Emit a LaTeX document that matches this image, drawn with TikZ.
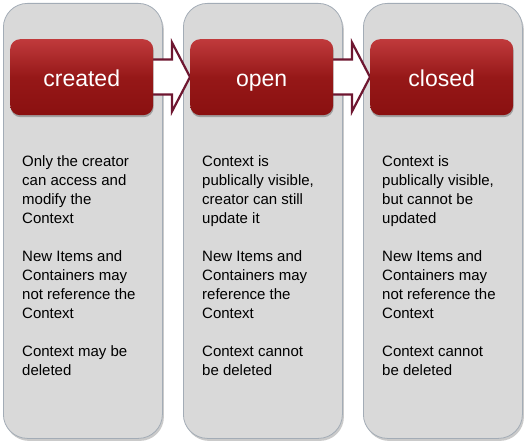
\documentclass[tikz,border=0pt]{standalone}
\usepackage{fontspec}
\setmainfont{Liberation Sans}
\usetikzlibrary{calc,shadows}
\definecolor{colfill}{HTML}{D9D9D9}
\definecolor{colline}{HTML}{A3ACB6}
\definecolor{redtop}{HTML}{C03A3C}
\definecolor{redmid}{HTML}{961818}
\definecolor{redbot}{HTML}{8A1010}
\definecolor{arrline}{HTML}{6E1630}
\tikzset{
  column/.style={draw=colline, line width=0.8pt, fill=colfill, rounded corners=24pt,
    minimum width=159pt, minimum height=435pt, inner sep=0pt, anchor=north west,
    drop shadow={shadow xshift=1.5pt, shadow yshift=-2.5pt, opacity=0.35, fill=black!60}},
  state/.style={rounded corners=10pt, minimum width=143pt, minimum height=76pt, inner sep=0pt,
    anchor=north west, top color=redtop, bottom color=redbot, middle color=redmid,
    text=white, font=\fontsize{23}{27}\selectfont, text height=18pt, text depth=0pt,
    drop shadow={shadow xshift=0.5pt, shadow yshift=-2pt, opacity=0.4, fill=black!70}},
  desc/.style={anchor=north west, inner sep=0pt, align=left, font=\fontsize{15}{19}\selectfont},
  flow/.style={draw=arrline, line width=2.2pt, fill=white, line join=miter}
}
\begin{document}
\begin{tikzpicture}[x=1pt,y=-1pt]
\useasboundingbox (0,0) rectangle (526,446);
\node[column] (c1) at (3,3) {};
\node[column] (c2) at (183,3) {};
\node[column] (c3) at (363,3) {};
% arrows
\coordinate (s1) at (145,77);
\coordinate (s2) at (325,77);
\coordinate (t1) at (190,77);
\coordinate (t2) at (370,77);
\foreach \s/\t in {s1/t1,s2/t2}{
  \draw[flow] ($(\s)+(0,-17.5)$) -- ($(\t)+(-18,-17.5)$) -- ($(\t)+(-18,-34.5)$) -- (\t)
    -- ($(\t)+(-18,34.5)$) -- ($(\t)+(-18,17.5)$) -- ($(\s)+(0,17.5)$) -- cycle;
}
\node[state] (b1) at (10,39) {created};
\node[state] (b2) at (190,39) {open};
\node[state] (b3) at (370,39) {closed};
\node[desc] (d1) at (22,155) {Only the creator\\can access and\\modify the\\Context\\[19pt]New Items and\\Containers may\\not reference the\\Context\\[19pt]Context may be\\deleted};
\node[desc] (d2) at (202,155) {Context is\\publically visible,\\creator can still\\update it\\[19pt]New Items and\\Containers may\\reference the\\Context\\[19pt]Context cannot\\be deleted};
\node[desc] (d3) at (382,155) {Context is\\publically visible,\\but cannot be\\updated\\[19pt]New Items and\\Containers may\\not reference the\\Context\\[19pt]Context cannot\\be deleted};
\end{tikzpicture}
\end{document}
